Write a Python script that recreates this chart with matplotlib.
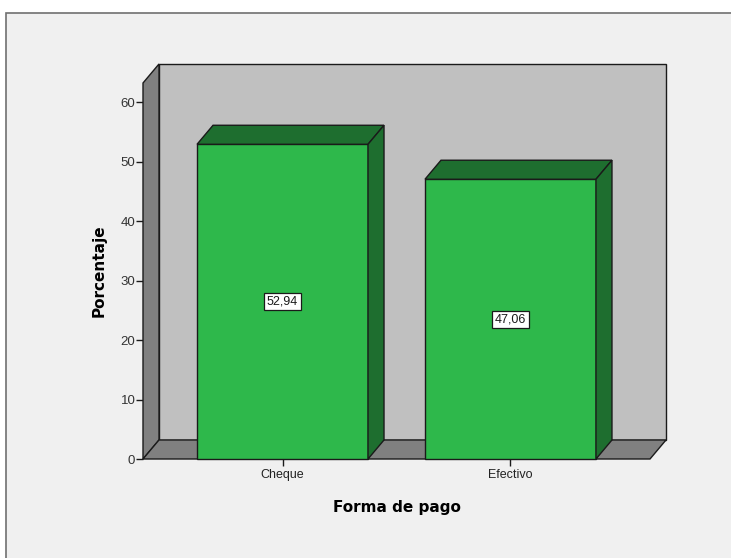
import matplotlib.pyplot as plt
from matplotlib.patches import Polygon, Rectangle

# Forma de pago - porcentaje
categorias = ['Cheque', 'Efectivo']
porcentajes = [52.94, 47.06]
etiquetas = ['52,94', '47,06']
yticks = [0, 10, 20, 30, 40, 50, 60]

verde = '#2eb84b'
verde_osc = '#1e6e2f'
gris_fondo = '#c0c0c0'
gris_pared = '#808080'

fig = plt.figure(figsize=(7.31, 5.58), dpi=100)
fig.patch.set_facecolor('white')
# marco gris del visor (se sale por la derecha y por abajo)
fig.patches.append(Rectangle((6 / 731, -0.05), 1.0, 545 / 558 + 0.05, transform=fig.transFigure,
                             facecolor='#f0f0f0', edgecolor='#707070', linewidth=1.2, zorder=-10))

ax = fig.add_axes([143 / 731, 99 / 558, 507 / 731, 376 / 558])
ax.set_facecolor('none')
xmin, xmax = -0.612, 1.612
ymin, ymax = 0, 63.25
ax.set_xlim(xmin, xmax)
ax.set_ylim(ymin, ymax)
for s in ax.spines.values():
    s.set_visible(False)

# profundidad 3D en unidades de datos
DX = 0.0702
DY = 3.2
ancho = 0.75


def poly(pts, color, z):
    ax.add_patch(Polygon(pts, closed=True, facecolor=color, edgecolor='#1a1a1a',
                         linewidth=1.0, clip_on=False, zorder=z))


# paredes y suelo
poly([(xmin + DX, ymin + DY), (xmax + DX, ymin + DY), (xmax + DX, ymax + DY), (xmin + DX, ymax + DY)],
     gris_fondo, 1)
poly([(xmin, ymin), (xmin, ymax), (xmin + DX, ymax + DY), (xmin + DX, ymin + DY)], gris_pared, 2)
poly([(xmin, ymin), (xmax, ymin), (xmax + DX, ymin + DY), (xmin + DX, ymin + DY)], gris_pared, 2)

# barras
for i, (v, lab) in enumerate(zip(porcentajes, etiquetas)):
    x0, x1 = i - ancho / 2, i + ancho / 2
    poly([(x0, 0), (x1, 0), (x1, v), (x0, v)], verde, 3)
    poly([(x0, v), (x1, v), (x1 + DX, v + DY), (x0 + DX, v + DY)], verde_osc, 3)
    poly([(x1, 0), (x1 + DX, DY), (x1 + DX, v + DY), (x1, v)], verde_osc, 3)
    ax.text(i, v / 2, lab, ha='center', va='center', fontsize=9, color='#1a1a1a', zorder=5,
            family='Liberation Sans',
            bbox=dict(boxstyle='square,pad=0.2', facecolor='white', edgecolor='#1a1a1a', linewidth=0.9))

ax.set_xticks(range(len(categorias)))
ax.set_xticklabels(categorias, fontsize=9, family='Liberation Sans', color='#222222')
ax.set_yticks(yticks)
ax.set_yticklabels([str(t) for t in yticks], fontsize=9.5, family='Liberation Sans', color='#333333')
ax.tick_params(axis='both', direction='out', length=5, width=1.0, color='#1a1a1a', pad=2)
ax.tick_params(axis='y', pad=0.5)

ax.set_xlabel('Forma de pago', fontsize=11, fontweight='bold', family='DejaVu Sans', labelpad=14)
ax.set_ylabel('Porcentaje', fontsize=11, fontweight='bold', family='DejaVu Sans', labelpad=10)

fig.savefig('out.png', dpi=100, facecolor=fig.get_facecolor())
